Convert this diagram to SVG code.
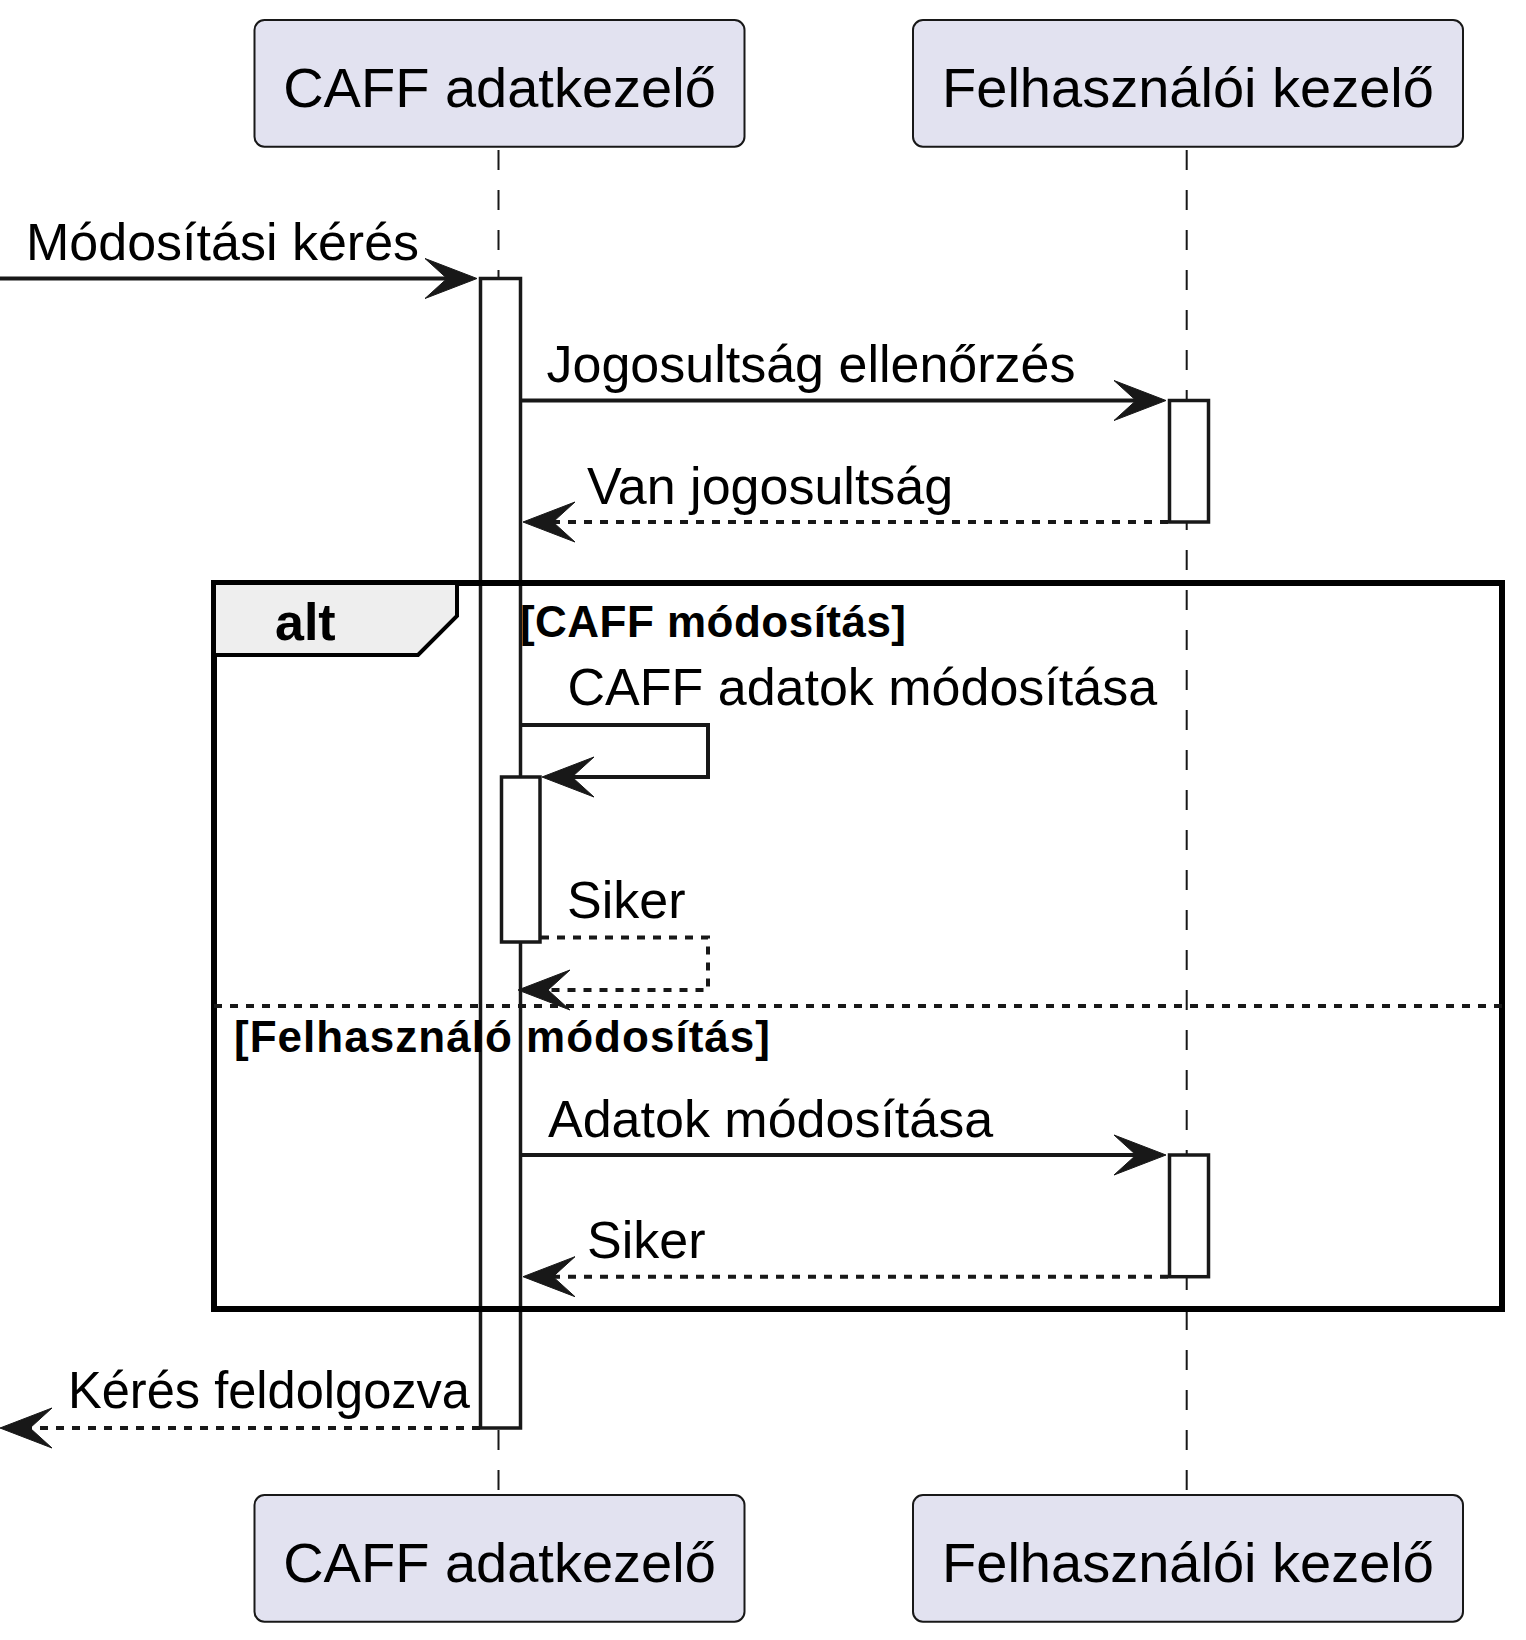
<svg xmlns="http://www.w3.org/2000/svg" width="1526" height="1640" viewBox="0 0 1526 1640">
<style>
.part{fill:#E2E2F0;stroke:#181818;stroke-width:2}
.ptxt{font-family:"Liberation Sans",Arial,sans-serif;font-size:56px;fill:#000;text-anchor:middle}
.life{stroke:#181818;stroke-width:2;stroke-dasharray:20,20;fill:none}
.act{fill:#FFFFFF;stroke:#181818;stroke-width:3.5}
.msg{stroke:#181818;stroke-width:4;fill:none}
.ret{stroke:#181818;stroke-width:4;fill:none;stroke-dasharray:8,8}
.head{fill:#181818;stroke:#181818;stroke-width:1}
.mtxt{font-family:"Liberation Sans",Arial,sans-serif;font-size:52px;fill:#000}
.gtxt{font-family:"Liberation Sans",Arial,sans-serif;font-size:44px;font-weight:bold;fill:#000}
</style>
<rect width="1526" height="1640" fill="#FFFFFF"/>
<g id="lifelines">
<line class="life" x1="498.5" y1="150" x2="498.5" y2="1495"/>
<line class="life" x1="1186.7" y1="150" x2="1186.7" y2="1495"/>
</g>
<g id="participant-caff-top">
<rect class="part" x="254.5" y="20" width="490" height="126.7" rx="10" ry="10"/>
<text class="ptxt" x="499.5" y="106.7">CAFF adatkezelő</text>
</g>
<g id="participant-user-top">
<rect class="part" x="913" y="20" width="550" height="126.7" rx="10" ry="10"/>
<text class="ptxt" x="1188" y="106.7">Felhasználói kezelő</text>
</g>
<g id="participant-caff-bottom">
<rect class="part" x="254.5" y="1495" width="490" height="126.7" rx="10" ry="10"/>
<text class="ptxt" x="499.5" y="1581.7">CAFF adatkezelő</text>
</g>
<g id="participant-user-bottom">
<rect class="part" x="913" y="1495" width="550" height="126.7" rx="10" ry="10"/>
<text class="ptxt" x="1188" y="1581.7">Felhasználói kezelő</text>
</g>
<g id="activations">
<rect id="act-caff" class="act" x="480.5" y="278.5" width="40" height="1149.5"/>
<rect id="act-user-1" class="act" x="1169.5" y="400.5" width="39" height="121.5"/>
<rect id="act-caff-self" class="act" x="501.5" y="777" width="38.5" height="165"/>
<rect id="act-user-2" class="act" x="1169.5" y="1155" width="39" height="121.7"/>
</g>
<g id="alt-frame">
<rect x="214" y="583" width="1288" height="726" fill="none" stroke="#000" stroke-width="6"/>
<polygon points="214,583 457,583 457,616 418,655 214,655" fill="#EEEEEE" stroke="#000" stroke-width="4"/>
<text x="275" y="640" font-family="'Liberation Sans',Arial,sans-serif" font-size="52" font-weight="bold" fill="#000">alt</text>
<text class="gtxt" x="520" y="636.5" textLength="386" lengthAdjust="spacing">[CAFF módosítás]</text>
<line class="ret" x1="214" y1="1006" x2="1502" y2="1006"/>
<text class="gtxt" x="234" y="1051.7" textLength="536" lengthAdjust="spacing">[Felhasználó módosítás]</text>
</g>
<g id="connectors">
<g id="msg-modositasi-keres">
<line class="msg" x1="0" y1="278.5" x2="470" y2="278.5"/>
<polygon class="head" points="477,278.5 425,258.5 447,278.5 425,298.5"/>
<text class="mtxt" x="26" y="260">Módosítási kérés</text>
</g>
<g id="msg-jogosultsag">
<line class="msg" x1="522" y1="400.5" x2="1159" y2="400.5"/>
<polygon class="head" points="1166,400.5 1114,380.5 1136,400.5 1114,420.5"/>
<text class="mtxt" x="546.5" y="382">Jogosultság ellenőrzés</text>
</g>
<g id="msg-van-jogosultsag">
<line class="ret" x1="1168" y1="522" x2="530" y2="522"/>
<polygon class="head" points="523,522 575,502 553,522 575,542"/>
<text class="mtxt" x="587" y="504">Van jogosultság</text>
</g>
<g id="msg-caff-adatok">
<polyline class="msg" points="522,725 708,725 708,777 549,777"/>
<polygon class="head" points="542,777 594,757 572,777 594,797"/>
<text class="mtxt" x="567.5" y="705">CAFF adatok módosítása</text>
</g>
<g id="msg-siker-1">
<polyline class="ret" points="541,937.5 708,937.5 708,990 525,990"/>
<polygon class="head" points="518,990 570,970 548,990 570,1010"/>
<text class="mtxt" x="567" y="918">Siker</text>
</g>
<g id="msg-adatok">
<line class="msg" x1="522" y1="1155" x2="1159" y2="1155"/>
<polygon class="head" points="1166,1155 1114,1135 1136,1155 1114,1175"/>
<text class="mtxt" x="548" y="1136.7">Adatok módosítása</text>
</g>
<g id="msg-siker-2">
<line class="ret" x1="1168" y1="1276.7" x2="530" y2="1276.7"/>
<polygon class="head" points="523,1276.7 575,1256.7 553,1276.7 575,1296.7"/>
<text class="mtxt" x="587" y="1258.4">Siker</text>
</g>
<g id="msg-keres-feldolgozva">
<line class="ret" x1="480" y1="1428" x2="7" y2="1428"/>
<polygon class="head" points="0,1428 52,1408 30,1428 52,1448"/>
<text class="mtxt" x="68" y="1407.5" textLength="402" lengthAdjust="spacingAndGlyphs">Kérés feldolgozva</text>
</g>
</g>
</svg>
